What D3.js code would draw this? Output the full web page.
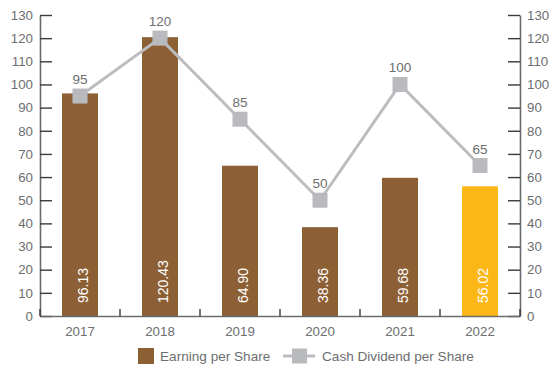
<!DOCTYPE html>
<html>
<head>
<meta charset="utf-8">
<script src="https://cdn.jsdelivr.net/npm/d3@7"></script>
<style>
  body { margin: 0; background: #fff; }
  svg text { font-family: "Liberation Sans", Arial, sans-serif; }
</style>
</head>
<body>
<svg id="chart" width="549" height="366"></svg>
<script>
// donnees
const years = ['2017', '2018', '2019', '2020', '2021', '2022'];
const eps = [96.13, 120.43, 64.90, 38.36, 59.68, 56.02];
const dividend = [95, 120, 85, 50, 100, 65];
const yTicks = [0, 10, 20, 30, 40, 50, 60, 70, 80, 90, 100, 110, 120, 130];
const legendLabels = ['Earning per Share', 'Cash Dividend per Share'];

const svg = d3.select('#chart');
const margin = { left: 40, right: 520, top: 15, bottom: 316 };
const textColor = '#6d6e70';

const x = d3.scaleBand().domain(years).range([margin.left, margin.right]).padding(0);
const xBar = d3.scaleBand().domain(years).range([margin.left, margin.right])
    .paddingInner(0.55).paddingOuter(0.275);
const y = d3.scaleLinear().domain([0, 130]).range([margin.bottom, margin.top]);

// barres
svg.append('g').selectAll('rect')
    .data(years)
    .enter().append('rect')
    .attr('x', d => xBar(d))
    .attr('y', (d, i) => y(eps[i]))
    .attr('width', xBar.bandwidth())
    .attr('height', (d, i) => y(0) - y(eps[i]))
    .attr('fill', (d, i) => i === years.length - 1 ? '#fbb617' : '#8d5f35');

// valeurs dans les barres
svg.append('g').selectAll('text')
    .data(years)
    .enter().append('text')
    .attr('transform', d => `translate(${x(d) + x.bandwidth() / 2 + 3},${y(0) - 13}) rotate(-90)`)
    .attr('dy', '0.35em')
    .attr('fill', '#fff')
    .attr('font-size', 14)
    .text((d, i) => eps[i].toFixed(2));

// axes
const yLeft = svg.append('g')
    .attr('transform', `translate(${margin.left},0)`)
    .call(d3.axisLeft(y).tickValues(yTicks).tickSize(-12).tickSizeOuter(0).tickPadding(7));
const yRight = svg.append('g')
    .attr('transform', `translate(${margin.right},0)`)
    .call(d3.axisRight(y).tickValues(yTicks).tickSize(-12).tickSizeOuter(0).tickPadding(7));
const xAxis = svg.append('g')
    .attr('transform', `translate(0,${margin.bottom})`)
    .call(d3.axisBottom(x).tickSize(0).tickSizeOuter(0).tickPadding(11));

[yLeft, yRight, xAxis].forEach(g => {
    g.select('.domain').attr('stroke', '#6a6b6d').attr('stroke-width', 1.6);
    g.selectAll('.tick line').attr('stroke', '#3a3a3a').attr('stroke-width', 1.4);
    g.selectAll('.tick text').attr('fill', textColor).attr('font-size', 13.3)
        .attr('font-family', '"Liberation Sans", Arial, sans-serif');
});

// petits traits entre les annees
const bounds = years.map(d => x(d)).concat([margin.right]);
svg.append('g').selectAll('line')
    .data(bounds)
    .enter().append('line')
    .attr('x1', d => d).attr('x2', d => d)
    .attr('y1', margin.bottom).attr('y2', margin.bottom - 7)
    .attr('stroke', '#3a3a3a').attr('stroke-width', 1.4);

// ligne des dividendes
const pts = years.map((d, i) => ({ x: x(d) + x.bandwidth() / 2, y: y(dividend[i]), v: dividend[i] }));
const line = d3.line().x(d => d.x).y(d => d.y);
svg.append('path')
    .attr('d', line(pts))
    .attr('fill', 'none')
    .attr('stroke', '#bcbdc0')
    .attr('stroke-width', 3);

svg.append('g').selectAll('rect')
    .data(pts)
    .enter().append('rect')
    .attr('x', d => d.x - 7.5).attr('y', d => d.y - 7.5)
    .attr('width', 15).attr('height', 15)
    .attr('fill', '#b9babd');

svg.append('g').selectAll('text')
    .data(pts)
    .enter().append('text')
    .attr('x', d => d.x).attr('y', d => d.y - 12)
    .attr('text-anchor', 'middle')
    .attr('fill', textColor)
    .attr('font-size', 13.5)
    .text(d => d.v);

// legende
const leg = svg.append('g').attr('transform', 'translate(0,356)');
leg.append('rect').attr('x', 138).attr('y', -8).attr('width', 16).attr('height', 16).attr('fill', '#8d5f35');
leg.append('text').attr('x', 160).attr('dy', '0.35em').attr('fill', textColor).attr('font-size', 13.6).text(legendLabels[0]);
leg.append('line').attr('x1', 283).attr('x2', 315).attr('y1', 0).attr('y2', 0)
    .attr('stroke', '#bcbdc0').attr('stroke-width', 3);
leg.append('rect').attr('x', 292).attr('y', -7.5).attr('width', 15).attr('height', 15).attr('fill', '#b9babd');
leg.append('text').attr('x', 322).attr('dy', '0.35em').attr('fill', textColor).attr('font-size', 13.6).text(legendLabels[1]);
</script>
</body>
</html>
